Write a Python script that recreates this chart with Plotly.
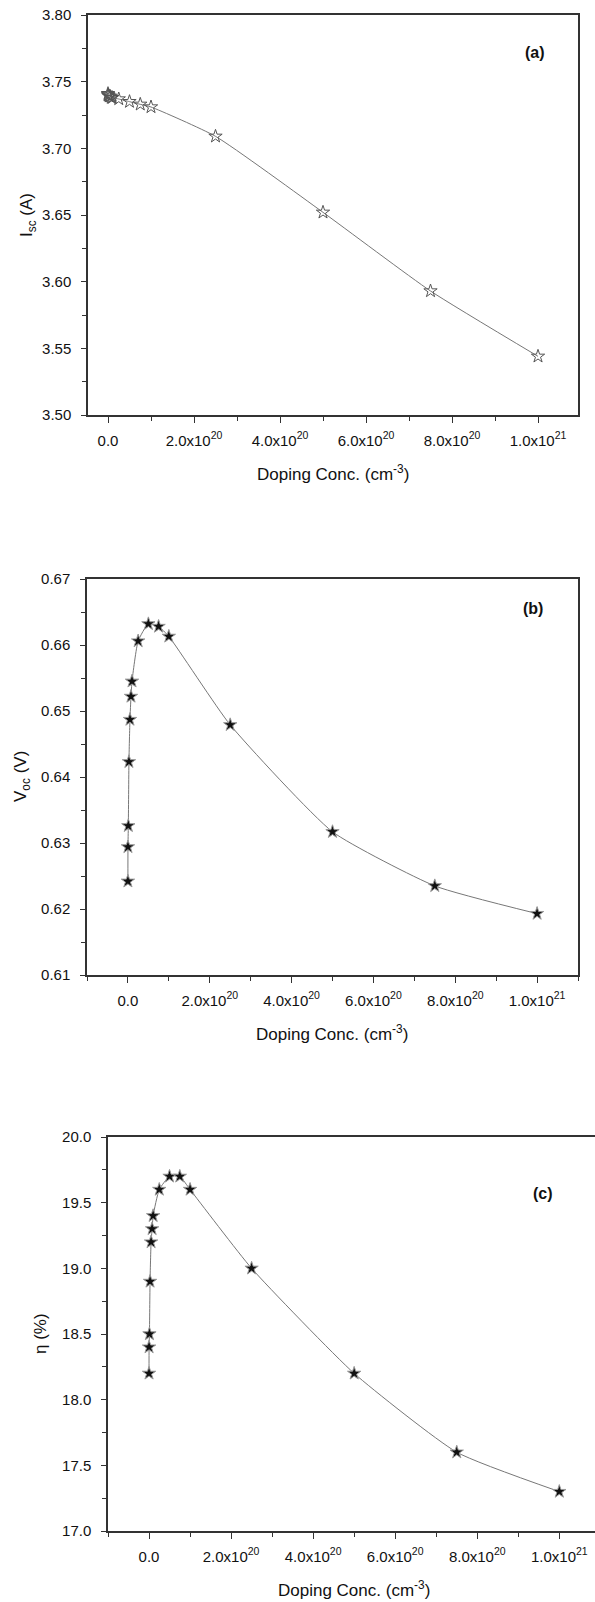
import plotly.graph_objects as go

# ---------------- data ----------------
doping = [1e16, 1e17, 1e18, 2.5e18, 5e18, 7.5e18, 1e19, 2.5e19, 5e19, 7.5e19,
          1e20, 2.5e20, 5e20, 7.5e20, 1e21]
isc = [3.741, 3.740, 3.740, 3.739, 3.739, 3.738, 3.738, 3.737, 3.735, 3.733,
       3.731, 3.709, 3.652, 3.593, 3.544]
voc = [0.6242, 0.6294, 0.6326, 0.6423, 0.6487, 0.6522, 0.6545, 0.6606, 0.6632, 0.6628,
       0.6613, 0.6479, 0.6317, 0.6235, 0.6193]
eta = [18.2, 18.4, 18.5, 18.9, 19.2, 19.3, 19.4, 19.6, 19.7, 19.7,
       19.6, 19.0, 18.2, 17.6, 17.3]

x_tickvals = [0, 2e20, 4e20, 6e20, 8e20, 1e21]
x_ticktext = ["0.0", "2.0x10<sup>20</sup>", "4.0x10<sup>20</sup>", "6.0x10<sup>20</sup>",
              "8.0x10<sup>20</sup>", "1.0x10<sup>21</sup>"]
x_minor = [-1e20, 1e20, 3e20, 5e20, 7e20, 9e20, 1.1e21]

ya_ticks = [3.50, 3.55, 3.60, 3.65, 3.70, 3.75, 3.80]
yb_ticks = [0.61, 0.62, 0.63, 0.64, 0.65, 0.66, 0.67]
yc_ticks = [17.0, 17.5, 18.0, 18.5, 19.0, 19.5, 20.0]

x_title = "Doping Conc. (cm<sup>-3</sup>)"
y_titles = ["I<sub>sc</sub> (A)", "V<sub>oc</sub> (V)", "\u03b7 (%)"]
panel_labels = ["<b>(a)</b>", "<b>(b)</b>", "<b>(c)</b>"]

# ---------------- layout geometry (page pixels) ----------------
W, H = 595, 1602
FONT = "Liberation Sans, Arial, sans-serif"
panels = [
    dict(x0=88, x1=578, y0=15, y1=415, xr=[-0.465e20, 1.093e21], yr=[3.50, 3.80],
         yt=ya_ticks, fmt="{:.2f}", ymin=0.025, ytx=28, lab=(535, 53), mirror=True,
         tx=333),
    dict(x0=87, x1=578, y0=579, y1=975, xr=[-1e20, 1.1e21], yr=[0.61, 0.67],
         yt=yb_ticks, fmt="{:.2f}", ymin=0.005, ytx=22, lab=(533, 609), mirror=True,
         tx=332),
    dict(x0=108, x1=595, y0=1137, y1=1531, xr=[-1e20, 1.087e21], yr=[17.0, 20.0],
         yt=yc_ticks, fmt="{:.1f}", ymin=0.25, ytx=40, lab=(543, 1193), mirror=False,
         tx=354),
]
series = [isc, voc, eta]


def px(x):
    return x / W


def py(y):
    return 1 - y / H


fig = go.Figure()
annotations = []
for i, (p, ys) in enumerate(zip(panels, series)):
    n = "" if i == 0 else str(i + 1)
    xa, ya = "x" + n, "y" + n
    if i == 0:
        mk = dict(symbol="star-open", size=10, color="#555555", line=dict(width=1, color="#555555"))
    else:
        mk = dict(symbol="star", size=10, color="#111111", line=dict(width=1, color="#9a9a9a"))
    fig.add_trace(go.Scatter(
        x=doping, y=ys, mode="lines+markers", xaxis=xa, yaxis=ya,
        line=dict(color="#777777", width=1, shape="spline", smoothing=0.5),
        marker=mk, showlegend=False, cliponaxis=False, hoverinfo="skip"))

    xdom = [px(p["x0"]), min(px(p["x1"]), 1.0)]
    ydom = [py(p["y1"]), py(p["y0"])]
    ymin_vals = []
    v = p["yr"][0]
    while v < p["yr"][1] + 1e-9:
        ymin_vals.append(round(v, 4))
        v += p["ymin"]
    fig.update_layout(**{
        ("xaxis" + n): dict(
            domain=xdom, range=p["xr"], anchor=ya, showgrid=False, zeroline=False,
            automargin=False, ticklabeloverflow="allow",
            showline=True, linecolor="#333333", linewidth=1.5, mirror=True,
            ticks="outside", ticklen=6, tickwidth=1, tickcolor="#333333",
            tickmode="array", tickvals=x_tickvals, ticktext=x_ticktext,
            tickfont=dict(family=FONT, size=15, color="#111111"),
            ticklabelstandoff=5,
            minor=dict(tickmode="array", tickvals=x_minor, ticklen=4,
                       tickcolor="#333333", ticks="outside"),
        ),
        ("yaxis" + n): dict(
            domain=ydom, range=p["yr"], anchor=xa, showgrid=False, zeroline=False,
            automargin=False, ticklabeloverflow="allow",
            showline=True, linecolor="#333333", linewidth=1.5, mirror=p["mirror"],
            ticks="outside", ticklen=5, tickwidth=1, tickcolor="#333333",
            tickmode="array", tickvals=p["yt"],
            ticktext=[p["fmt"].format(t) for t in p["yt"]],
            tickfont=dict(family=FONT, size=15, color="#111111"),
            ticklabelstandoff=7,
            minor=dict(tickmode="array", tickvals=ymin_vals, ticklen=4,
                       tickcolor="#333333", ticks="outside"),
        ),
    })
    # axis titles
    annotations.append(dict(
        xref="paper", yref="paper", x=px(p["tx"]),
        y=py(p["y1"] + 58), text=x_title, showarrow=False,
        font=dict(family=FONT, size=17, color="#111111"), xanchor="center", yanchor="middle"))
    annotations.append(dict(
        xref="paper", yref="paper", x=px(p["ytx"]), y=py((p["y0"] + p["y1"]) / 2),
        text=y_titles[i], textangle=-90, showarrow=False,
        font=dict(family=FONT, size=17, color="#111111"), xanchor="center", yanchor="middle"))
    annotations.append(dict(
        xref="paper", yref="paper", x=px(p["lab"][0]), y=py(p["lab"][1]),
        text=panel_labels[i], showarrow=False,
        font=dict(family=FONT, size=16, color="#111111"), xanchor="center", yanchor="middle"))

fig.update_layout(width=W, height=H, margin=dict(l=0, r=0, t=0, b=0),
                  paper_bgcolor="white", plot_bgcolor="white",
                  annotations=annotations, hovermode=False)
# remove the page's default body margin so the figure sits at the window origin
fig.write_html("out.html", config={"displayModeBar": False},
               post_script="document.body.style.margin='0';document.body.style.overflow='hidden';")
